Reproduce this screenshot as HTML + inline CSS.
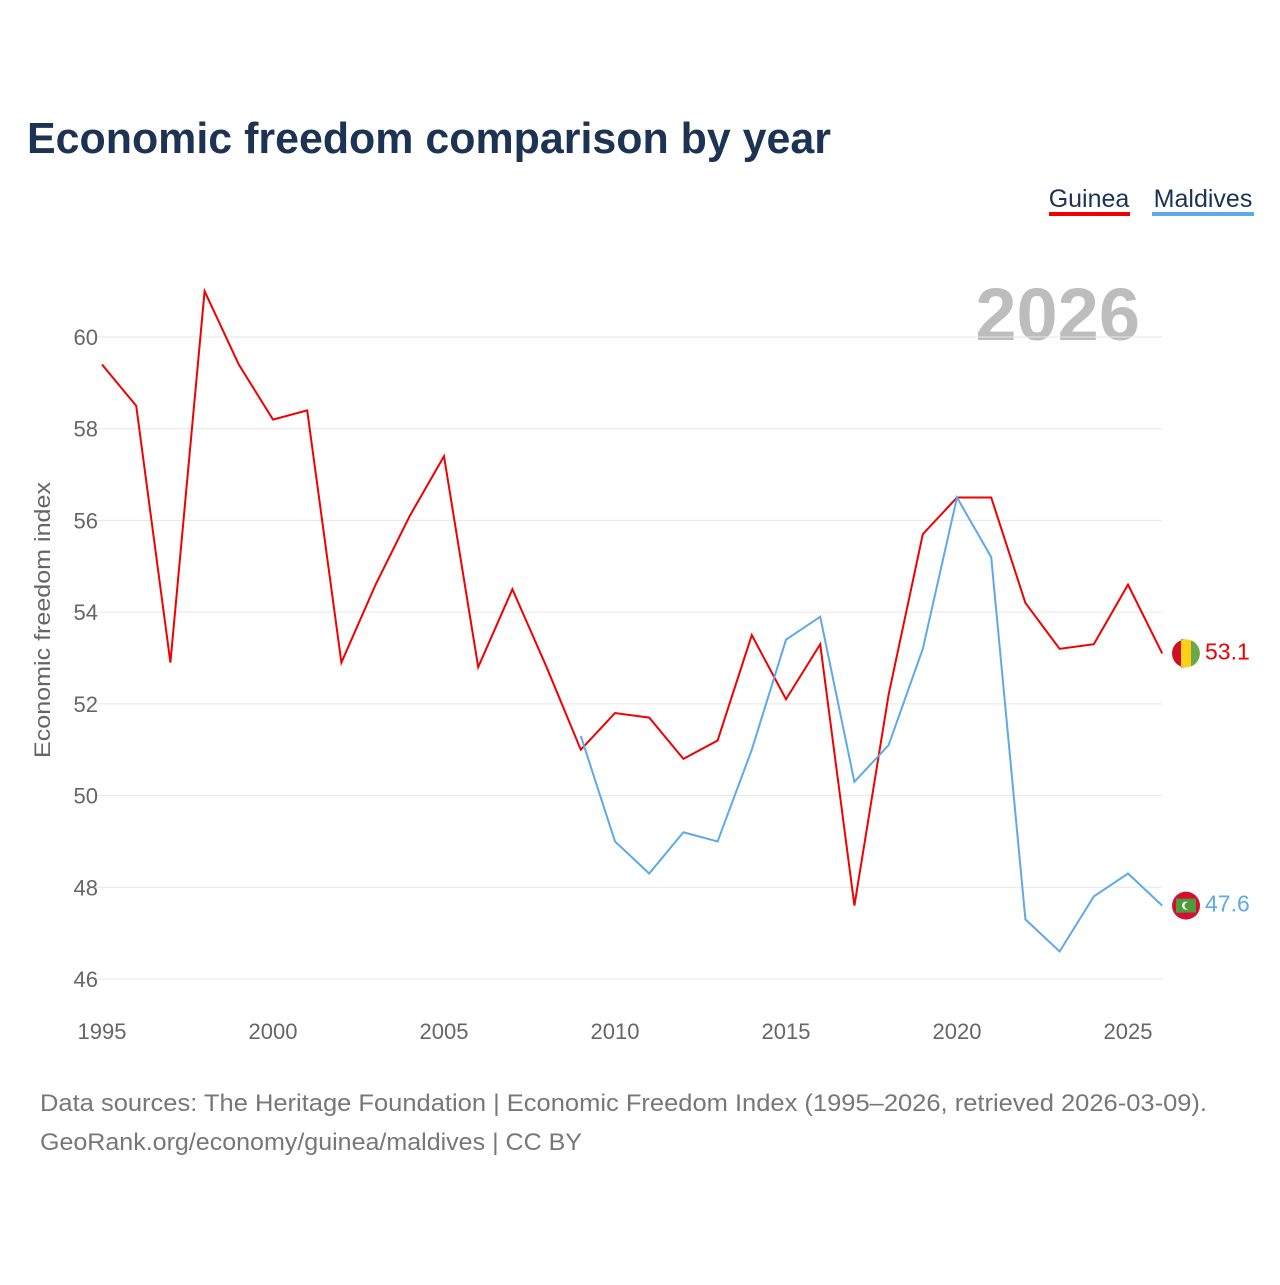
<!DOCTYPE html>
<html><head><meta charset="utf-8"><style>
html,body{margin:0;padding:0;background:#fff;}
body{width:1280px;height:1280px;position:relative;font-family:"Liberation Sans",sans-serif;overflow:hidden;}
</style></head><body>
<svg id="chart" width="1280" height="1280" xmlns="http://www.w3.org/2000/svg" font-family="Liberation Sans, sans-serif">
<text x="27" y="153" font-size="44" font-weight="bold" fill="#1c3353" textLength="804" lengthAdjust="spacingAndGlyphs">Economic freedom comparison by year</text>
<g><text x="1089" y="207" font-size="25" fill="#1c3353" text-anchor="middle">Guinea</text><rect x="1049" y="212" width="81" height="4" fill="#f00000"/></g>
<g><text x="1203" y="207" font-size="25" fill="#1c3353" text-anchor="middle">Maldives</text><rect x="1152" y="212" width="102" height="4" fill="#5da9e9"/></g>
<text x="1140" y="340" font-size="74" font-weight="bold" fill="#bdbdbd" text-anchor="end">2026</text>
<text transform="translate(50,620) rotate(-90)" font-size="22" fill="#666" text-anchor="middle" textLength="276" lengthAdjust="spacingAndGlyphs">Economic freedom index</text>
<g id="grid"></g><g id="xt"></g><g id="series"></g>
<text x="40" y="1111" font-size="24" fill="#777" textLength="1167" lengthAdjust="spacingAndGlyphs">Data sources: The Heritage Foundation | Economic Freedom Index (1995–2026, retrieved 2026-03-09).</text>
<text x="40" y="1150" font-size="24" fill="#777" textLength="542" lengthAdjust="spacingAndGlyphs">GeoRank.org/economy/guinea/maldives | CC BY</text>
</svg>
<script>
const yTicks=[46,48,50,52,54,56,58,60];
const xTicks=[1995,2000,2005,2010,2015,2020,2025];
const guineaYears=[1995,1996,1997,1998,1999,2000,2001,2002,2003,2004,2005,2006,2007,2008,2009,2010,2011,2012,2013,2014,2015,2016,2017,2018,2019,2020,2021,2022,2023,2024,2025,2026];
const guineaValues=[59.4,58.5,52.9,61.0,59.4,58.2,58.4,52.9,54.6,56.1,57.4,52.8,54.5,52.8,51.0,51.8,51.7,50.8,51.2,53.5,52.1,53.3,47.6,52.2,55.7,56.5,56.5,54.2,53.2,53.3,54.6,53.1];
const maldivesYears=[2009,2010,2011,2012,2013,2014,2015,2016,2017,2018,2019,2020,2021,2022,2023,2024,2025,2026];
const maldivesValues=[51.3,49.0,48.3,49.2,49.0,51.0,53.4,53.9,50.3,51.1,53.2,56.5,55.2,47.3,46.6,47.8,48.3,47.6];
const NS='http://www.w3.org/2000/svg';
const x=y=>102+(y-1995)*34.2;
const yS=v=>337+(60-v)*45.857;
function mk(t,a,p){const e=document.createElementNS(NS,t);for(const k in a)e.setAttribute(k,a[k]);p.appendChild(e);return e;}
const grid=document.getElementById('grid');
yTicks.forEach(v=>{
 const l=mk('line',{x1:95,x2:1162,y1:yS(v),y2:yS(v),stroke:'#e6e6e6','stroke-width':1},grid);
 
 
 const t=mk('text',{x:98,y:yS(v)+8,'font-size':22,fill:'#666','text-anchor':'end'},grid);t.textContent=v;
 
 
});
const xt=document.getElementById('xt');
xTicks.forEach(v=>{
 const t=mk('text',{x:x(v),y:1039,'font-size':22,fill:'#666','text-anchor':'middle'},xt);t.textContent=v;
 
 
});
const s=document.getElementById('series');
function line(ys,vs,col,name){
 const p=mk('polyline',{points:ys.map((y,i)=>x(y)+','+yS(vs[i])).join(' '),fill:'none',stroke:col,'stroke-width':2},s);
 
 
 const lv=vs[vs.length-1],cy=yS(lv);
 const g=mk('g',{},s);
 
 
 mk('circle',{cx:1186,cy:cy,r:14,fill:name==='guinea'?'#fcd116':'#d21034'},g);
 if(name==='guinea'){mk('path',{d:`M1186 ${cy-14} a14 14 0 0 0 0 28 h-5 v-28z`,fill:'#ce1126'},g);mk('path',{d:`M1191 ${cy-13} a14 14 0 0 1 0 26z`,fill:'#6aa84f'},g);}
 else{mk('rect',{x:1176,y:cy-7,width:20,height:14,fill:'#4f9a3a'},g);mk('circle',{cx:1186,cy:cy,r:4,fill:'#fff'},g);mk('circle',{cx:1188,cy:cy,r:3.5,fill:'#4f9a3a'},g);}
 const t=mk('text',{x:1205,y:cy+6,'font-size':23,fill:col},s);t.textContent=lv.toFixed(1);
 
 
}
line(guineaYears,guineaValues,'#f00000','guinea');
line(maldivesYears,maldivesValues,'#5da9e9','maldives');
</script>
</body></html>
